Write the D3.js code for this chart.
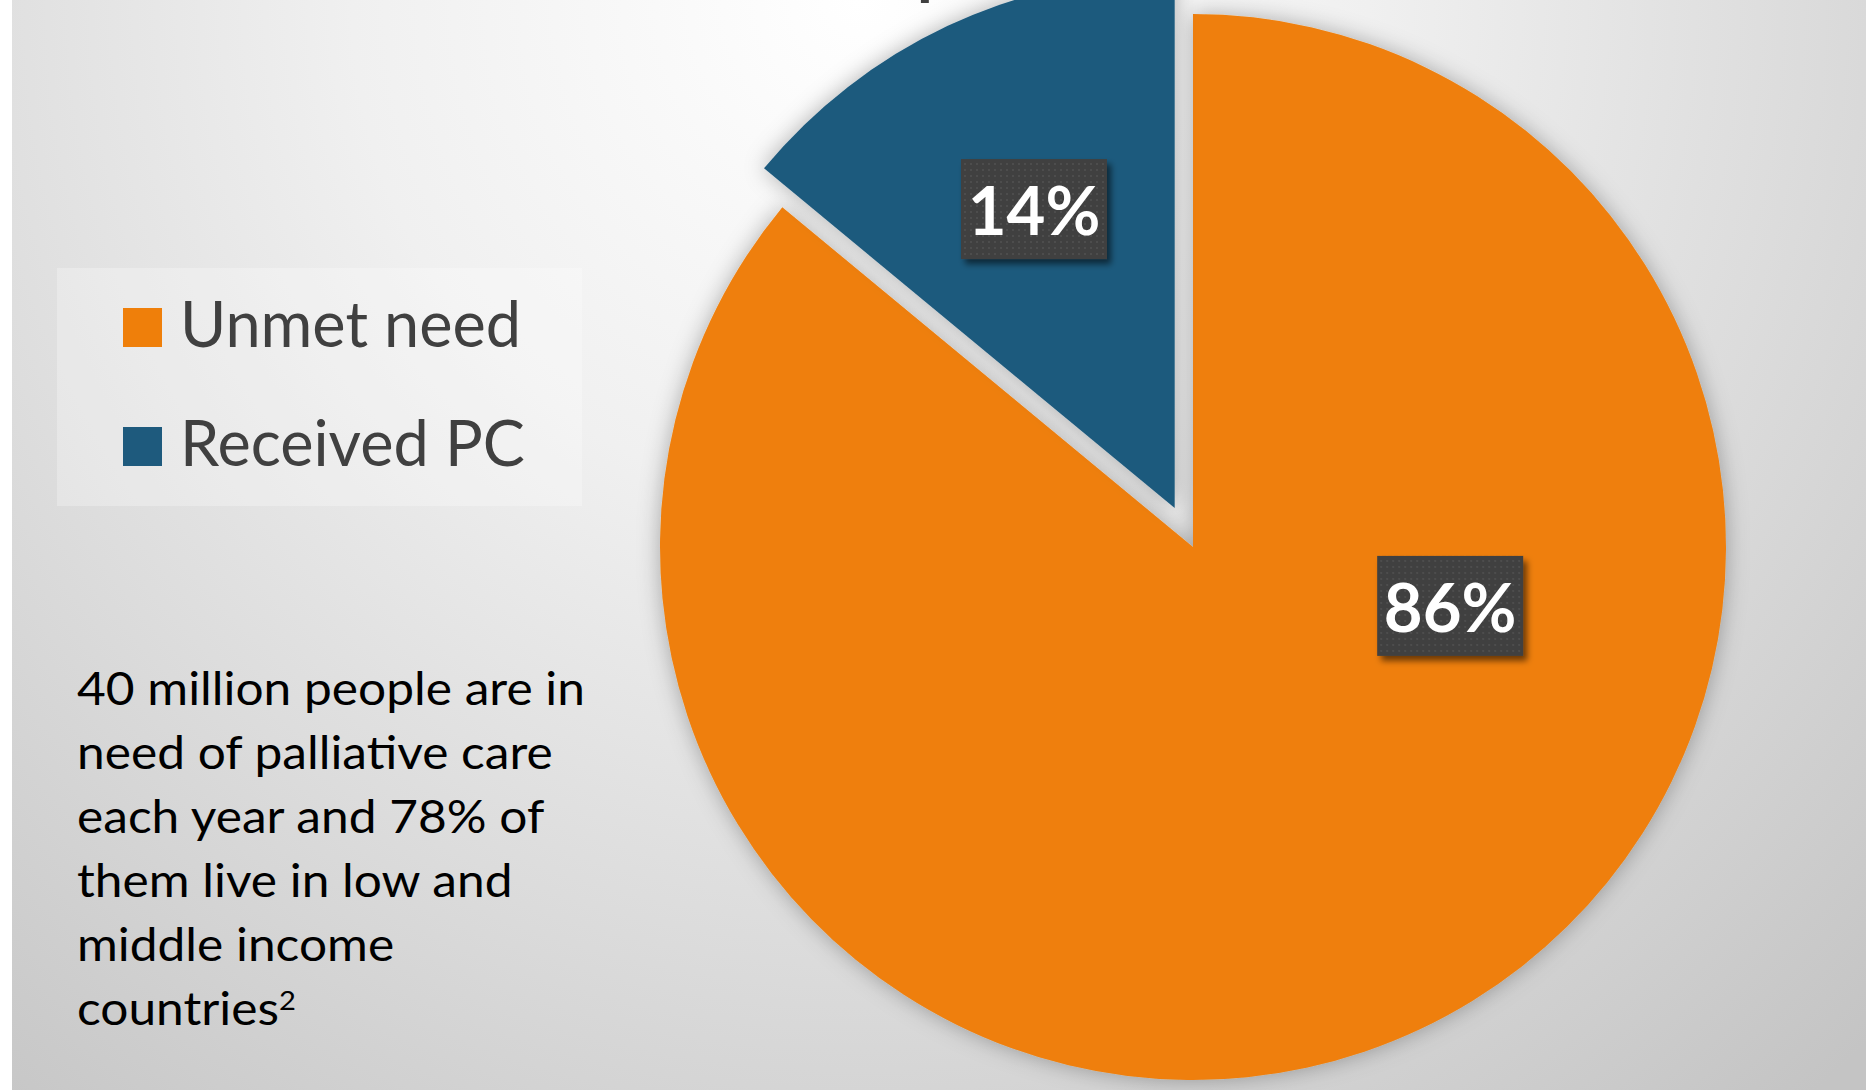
<!DOCTYPE html>
<html>
<head>
<meta charset="utf-8">
<script src="https://cdn.jsdelivr.net/npm/d3@7"></script>
<style>
  body { margin: 0; background: #fff; }
  svg { display: block; }
  text { font-family: Lato, "Open Sans", sans-serif; }
</style>
</head>
<body>
<div id="chart"></div>
<script>
// data
const categories = ['Unmet need', 'Received PC'];
const values = [86, 14];
const labels = ['86%', '14%'];
const noteLines = ['40 million people are in', 'need of palliative care', 'each year and 78% of',
                   'them live in low and', 'middle income', 'countries'];
const noteSup = '2';

const width = 1866;
const height = 1090;
const colors = ['#EF7F0A', '#1E5A7D'];

const cx = 1193, cy = 547, radius = 533;
const explode = [0, 43];          // pull-out distance per slice
const labelDist = [0.495, 0.62];  // label distance, share of radius
const labelAngle = [102.9, null]; // null -> slice mid angle (degrees)

const svg = d3.select('#chart').append('svg')
    .attr('width', width)
    .attr('height', height);

const defs = svg.append('defs');

const bg = defs.append('radialGradient')
    .attr('id', 'bg')
    .attr('gradientUnits', 'userSpaceOnUse')
    .attr('cx', 860).attr('cy', 0).attr('r', 1450);
bg.append('stop').attr('offset', 0).attr('stop-color', '#ffffff');
bg.append('stop').attr('offset', 0.35).attr('stop-color', '#f0f0f0');
bg.append('stop').attr('offset', 0.65).attr('stop-color', '#dcdcdc');
bg.append('stop').attr('offset', 1).attr('stop-color', '#c4c4c4');

const shadow = defs.append('filter').attr('id', 'pieShadow')
    .attr('x', '-20%').attr('y', '-20%').attr('width', '140%').attr('height', '140%');
shadow.append('feGaussianBlur').attr('in', 'SourceAlpha').attr('stdDeviation', 11).attr('result', 'b');
shadow.append('feFlood').attr('flood-color', '#000').attr('flood-opacity', 0.3).attr('result', 'c');
shadow.append('feComposite').attr('in', 'c').attr('in2', 'b').attr('operator', 'in').attr('result', 's');
const sm = shadow.append('feMerge');
sm.append('feMergeNode').attr('in', 's');
sm.append('feMergeNode').attr('in', 'SourceGraphic');

const boxShadow = defs.append('filter').attr('id', 'boxShadow')
    .attr('x', '-20%').attr('y', '-20%').attr('width', '150%').attr('height', '150%');
boxShadow.append('feGaussianBlur').attr('in', 'SourceAlpha').attr('stdDeviation', 3).attr('result', 'b');
boxShadow.append('feOffset').attr('in', 'b').attr('dx', 4).attr('dy', 5).attr('result', 'o');
boxShadow.append('feFlood').attr('flood-color', '#000').attr('flood-opacity', 0.55).attr('result', 'c');
boxShadow.append('feComposite').attr('in', 'c').attr('in2', 'o').attr('operator', 'in').attr('result', 's');
const bm = boxShadow.append('feMerge');
bm.append('feMergeNode').attr('in', 's');
bm.append('feMergeNode').attr('in', 'SourceGraphic');

const dots = defs.append('pattern').attr('id', 'dots')
    .attr('patternUnits', 'userSpaceOnUse').attr('width', 6).attr('height', 6);
dots.append('rect').attr('width', 6).attr('height', 6).attr('fill', '#404040');
dots.append('rect').attr('x', 2).attr('y', 2).attr('width', 2).attr('height', 2).attr('fill', '#4e4e4e');

// background panel
svg.append('rect').attr('width', width).attr('height', height).attr('fill', '#fff');
svg.append('rect').attr('x', 12).attr('width', width - 12).attr('height', height).attr('fill', 'url(#bg)');

// title, mostly above the frame
const title = svg.append('text')
    .attr('y', -7)
    .attr('font-size', 64)
    .attr('font-weight', 700)
    .attr('fill', '#404040')
    .text('Unmet need for palliative care');
const pIdx = title.text().indexOf('p');
const pX = title.node().getStartPositionOfChar(pIdx).x;
title.attr('x', 917 - pX);

// pie
const pie = d3.pie().sort(null).value(d => d.value);
const arcs = pie(categories.map((c, i) => ({ name: c, value: values[i], i: i })));
const arc = d3.arc().innerRadius(0).outerRadius(radius);

const offsetOf = d => {
    const mid = (d.startAngle + d.endAngle) / 2;
    const e = explode[d.data.i];
    return [e * Math.sin(mid), -e * Math.cos(mid)];
};

const slices = svg.append('g').attr('transform', `translate(${cx},${cy})`);
slices.selectAll('path')
    .data(arcs)
    .enter()
    .append('path')
    .attr('d', arc)
    .attr('transform', d => `translate(${offsetOf(d)})`)
    .attr('fill', d => colors[d.data.i])
    .attr('filter', 'url(#pieShadow)');

// data labels
const boxW = 146, boxH = 100;
const lab = slices.selectAll('g.lab')
    .data(arcs)
    .enter()
    .append('g')
    .attr('class', 'lab')
    .attr('transform', d => {
        const o = offsetOf(d);
        const i = d.data.i;
        const a = labelAngle[i] !== null ? labelAngle[i] * Math.PI / 180 : (d.startAngle + d.endAngle) / 2;
        const dist = labelDist[i] * radius;
        return `translate(${o[0] + dist * Math.sin(a)},${o[1] - dist * Math.cos(a)})`;
    });
lab.append('rect')
    .attr('x', -boxW / 2).attr('y', -boxH / 2)
    .attr('width', boxW).attr('height', boxH)
    .attr('fill', 'url(#dots)')
    .attr('filter', 'url(#boxShadow)');
lab.append('text')
    .attr('text-anchor', 'middle')
    .attr('y', 26)
    .attr('font-size', 67)
    .attr('font-weight', 700)
    .attr('fill', '#fff')
    .text((d, i) => labels[d.data.i]);

// legend
const legend = svg.append('g');
legend.append('rect')
    .attr('x', 57).attr('y', 268)
    .attr('width', 525).attr('height', 238)
    .attr('fill', '#fff').attr('fill-opacity', 0.28);
const item = legend.selectAll('g.item')
    .data(categories)
    .enter()
    .append('g')
    .attr('class', 'item')
    .attr('transform', (d, i) => `translate(0,${i * 119})`);
item.append('rect')
    .attr('x', 123).attr('y', 308)
    .attr('width', 39).attr('height', 39)
    .attr('fill', (d, i) => colors[i]);
const legendText = item.append('text')
    .attr('x', 180).attr('y', 347)
    .attr('font-size', 63)
    .attr('fill', '#404040')
    .text(d => d);
// squeeze to the reference width
const legW = d3.mean(legendText.nodes(), n => n.getComputedTextLength());
legendText.attr('transform', `translate(180,0) scale(${343 / legW},1) translate(-180,0)`);

// side note
const note = svg.append('g');
const noteText = note.selectAll('text')
    .data(noteLines)
    .enter()
    .append('text')
    .attr('x', 77)
    .attr('y', (d, i) => 705 + i * 64)
    .attr('font-size', 46)
    .attr('fill', '#000')
    .text(d => d);
noteText.filter((d, i) => i === noteLines.length - 1)
    .append('tspan')
    .attr('font-size', 27)
    .attr('dy', -15)
    .text(noteSup);
const noteW = noteText.nodes()[0].getComputedTextLength();
note.attr('transform', `translate(77,0) scale(${508 / noteW},1) translate(-77,0)`);
</script>
</body>
</html>
